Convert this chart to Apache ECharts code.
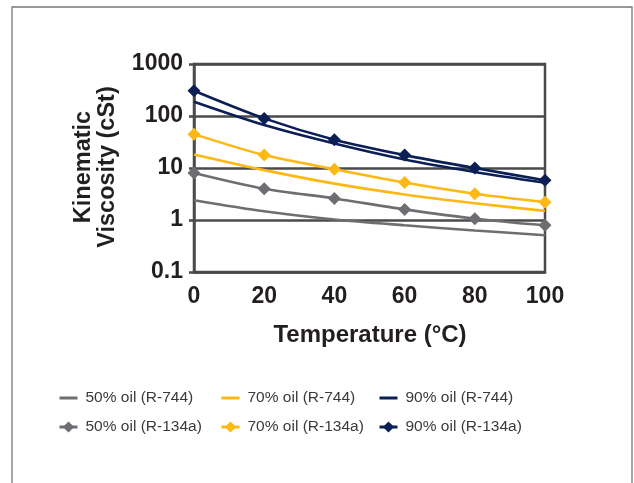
<!DOCTYPE html>
<html>
<head>
<meta charset="utf-8">
<script src="https://cdn.jsdelivr.net/npm/echarts@6/dist/echarts.min.js"></script>
<style>
html,body{margin:0;padding:0;background:#fff;}
#chart{width:634px;height:483px;}
</style>
</head>
<body>
<div id="chart"></div>
<script>
// Data
const temps = [0, 20, 40, 60, 80, 100];
const oil50_R744 = [2.4, 1.47, 1.02, 0.79, 0.63, 0.51];
const oil70_R744 = [18.2, 9.1, 5.0, 3.1, 2.1, 1.5];
const oil90_R744 = [188, 67, 29.6, 14.6, 8.4, 5.2];
const oil50_R134a = [8.05, 4.0, 2.6, 1.6, 1.06, 0.79];
const oil70_R134a = [44.8, 17.7, 9.5, 5.25, 3.2, 2.2];
const oil90_R134a = [306, 90, 35, 17.7, 10, 5.8];
const xTicks = [0, 20, 40, 60, 80, 100];
const yTicks = [0.1, 1, 10, 100, 1000];
const seriesNames = ['50% oil (R-744)', '70% oil (R-744)', '90% oil (R-744)',
  '50% oil (R-134a)', '70% oil (R-134a)', '90% oil (R-134a)'];

const GRAY = '#6d6e71', GOLD = '#fdb813', NAVY = '#0b1f56', AXIS = '#4a4a4a';
const FONT = "'Liberation Sans', Arial, Helvetica, sans-serif";
const LINE_ICON = 'path://M0,0H18V3H0Z';

function pairs(vals) { return temps.map((t, i) => [t, vals[i]]); }

function lineSeries(name, vals, color) {
  return {
    name, type: 'line', data: pairs(vals), smooth: 0.3,
    symbol: 'none', showSymbol: false, symbolKeepAspect: true,
    lineStyle: { color, width: 2.6 }, itemStyle: { color },
    z: 3
  };
}
function markerSeries(name, vals, color) {
  return {
    name, type: 'line', data: pairs(vals), smooth: 0.3,
    symbol: 'diamond', symbolSize: 13, showSymbol: true,
    lineStyle: { color, width: 2.6 }, itemStyle: { color },
    z: 4
  };
}

const chart = echarts.init(document.getElementById('chart'), null, { renderer: 'canvas' });

const legendBase = {
  orient: 'vertical', top: 385, itemWidth: 18, itemHeight: 14, itemGap: 13,
  symbolKeepAspect: true,
  textStyle: { fontFamily: FONT, fontSize: 15.5, color: '#3a3a3a', padding: [0, 0, 0, 3] },
  lineStyle: { width: 3 }
};
function lineItem(name) { return { name, icon: LINE_ICON, symbolKeepAspect: true }; }

chart.setOption({
  animation: false,
  backgroundColor: '#fff',
  grid: { left: 194, right: 89, top: 64, bottom: 211, show: true, borderColor: AXIS, borderWidth: 2.5, containLabel: false },
  xAxis: {
    type: 'value', min: 0, max: 100, interval: 20,
    axisLine: { show: true, lineStyle: { color: AXIS, width: 2.5 } },
    axisTick: { show: false },
    splitLine: { show: false },
    axisLabel: { fontFamily: FONT, fontSize: 23, fontWeight: 'bold', color: '#231f20', margin: 13,
      formatter: v => xTicks.includes(v) ? String(v) : '' }
  },
  yAxis: {
    type: 'log', logBase: 10, min: 0.1, max: 1000,
    axisLine: { show: true, lineStyle: { color: AXIS, width: 2.5 } },
    axisTick: { show: true, inside: false, length: 5, lineStyle: { color: AXIS, width: 2.5 } },
    minorTick: { show: false },
    splitLine: { show: true, lineStyle: { color: AXIS, width: 2.5 } },
    axisLabel: { fontFamily: FONT, fontSize: 23, fontWeight: 'bold', color: '#231f20', margin: 11,
      formatter: v => {
        const t = yTicks.find(y => Math.abs(y - v) / y < 1e-6);
        return t !== undefined ? String(t) : '';
      } }
  },
  legend: [
    Object.assign({}, legendBase, { left: 53, data: [lineItem(seriesNames[0]), seriesNames[3]] }),
    Object.assign({}, legendBase, { left: 215, data: [lineItem(seriesNames[1]), seriesNames[4]] }),
    Object.assign({}, legendBase, { left: 373, data: [lineItem(seriesNames[2]), seriesNames[5]] })
  ],
  graphic: [
    { type: 'rect', shape: { x: 12, y: 7, width: 620, height: 500 }, silent: true,
      style: { fill: 'none', stroke: '#777', lineWidth: 1.3 }, z: -10 },
    { type: 'text', x: 96, y: 167, rotation: Math.PI / 2, silent: true,
      style: { text: 'Kinematic\nViscosity (cSt)', fontFamily: FONT, fontSize: 23.5, fontWeight: 'bold',
        fill: '#231f20', align: 'center', verticalAlign: 'middle', lineHeight: 24 } },
    { type: 'text', x: 370, y: 335, silent: true,
      style: { text: 'Temperature (°C)', fontFamily: FONT, fontSize: 24, fontWeight: 'bold',
        fill: '#231f20', align: 'center', verticalAlign: 'middle' } }
  ],
  series: [
    lineSeries(seriesNames[0], oil50_R744, GRAY),
    lineSeries(seriesNames[1], oil70_R744, GOLD),
    lineSeries(seriesNames[2], oil90_R744, NAVY),
    markerSeries(seriesNames[3], oil50_R134a, GRAY),
    markerSeries(seriesNames[4], oil70_R134a, GOLD),
    markerSeries(seriesNames[5], oil90_R134a, NAVY)
  ]
});
</script>
</body>
</html>
